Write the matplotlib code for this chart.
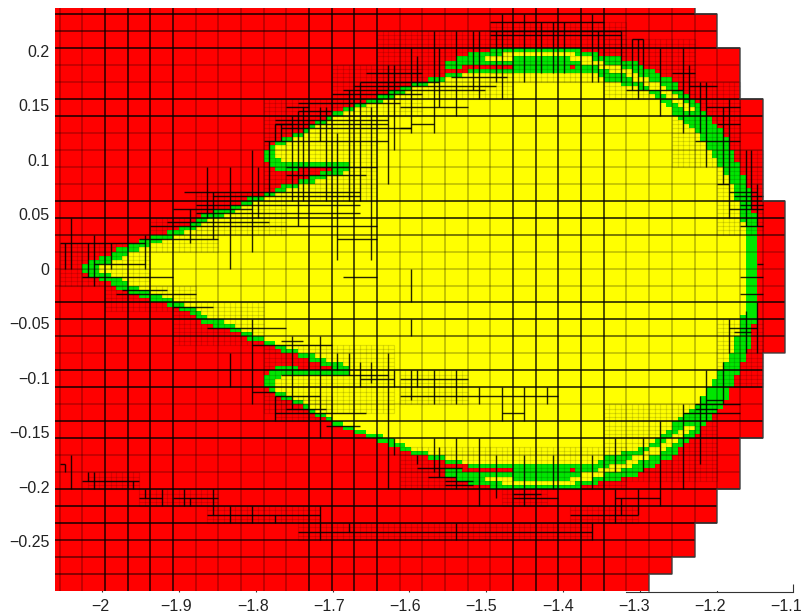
import numpy as np
import matplotlib
matplotlib.use('Agg')
import matplotlib.pyplot as plt
from matplotlib.colors import ListedColormap
from matplotlib.path import Path
from matplotlib.transforms import ScaledTranslation

# tick labels
x_ticks = [-2, -1.9, -1.8, -1.7, -1.6, -1.5, -1.4, -1.3, -1.2, -1.1]
x_labels = ['−2', '−1.9', '−1.8', '−1.7', '−1.6', '−1.5', '−1.4', '−1.3', '−1.2', '−1.1']
y_ticks = [0.2, 0.15, 0.1, 0.05, 0, -0.05, -0.1, -0.15, -0.2, -0.25]
y_labels = ['0.2', '0.15', '0.1', '0.05', '0', '−0.05', '−0.1', '−0.15', '−0.2', '−0.25']

# base mesh
x_start = -2.0556
cell_w = 0.02953
cell_h = 0.015578
# number of base columns in each base row, rows -1 to 33 (row 15 starts at y=0)
row_cols = [28, 29, 29, 30, 30, 30, 31, 31, 31, 31, 31, 31, 32, 32, 32, 32, 32, 32, 32, 32, 32,
            31, 31, 31, 31, 31, 30, 30, 30, 29, 29, 28, 28, 27, 26]
# mesh line level per base column line 0..32 and base row line 0..33 (1 = strong)
col_level = [0, 0, 1, 1, 1, 1, 0, 0, 0, 0, 0, 1, 1, 1, 1, 0, 0, 0, 0, 0, 1, 1, 1, 1, 1,
             0, 0, 0, 0, 0, 0, 0, 0]
row_level = [1, 0.6, 1, 0, 0, 1, 1, 0, 0, 0, 0, 1, 1, 0.6, 0, 0, 0, 1, 1, 0.6, 0, 1, 1, 0, 1, 1,
             0, 0, 1, 1, 1, 0.8, 0.5, 0.5]

# upper half outline of the set (x, y), the lower half mirrors it
body_x = [-2.0254, -2.0185, -2.0029, -1.9742, -1.9599, -1.9286, -1.9078, -1.8857, -1.8622, -1.8336,
          -1.8180, -1.7880, -1.7594, -1.7294, -1.7138, -1.6995, -1.7451, -1.7464, -1.7724, -1.7841,
          -1.7893, -1.7867, -1.7750, -1.7646, -1.7451, -1.7229, -1.6995, -1.6865, -1.6552, -1.6409,
          -1.6123, -1.5901, -1.5693, -1.5446, -1.5172, -1.4664, -1.4664, -1.5315, -1.5341, -1.5537,
          -1.5537, -1.5380, -1.5172, -1.4795, -1.3844, -1.3610, -1.3349, -1.3102, -1.2893, -1.2646,
          -1.2438, -1.2282, -1.2060, -1.1917, -1.1852, -1.1696, -1.1630, -1.1552, -1.1513, -1.1474,
          -1.1474]
body_y = [0, 0.0078, 0.0105, 0.0188, 0.0234, 0.0307, 0.0353, 0.0417, 0.0509, 0.0564,
          0.0619, 0.0692, 0.0775, 0.0830, 0.0885, 0.0922, 0.0931, 0.0903, 0.0885, 0.0949,
          0.1013, 0.1087, 0.1160, 0.1206, 0.1252, 0.1343, 0.1426, 0.1472, 0.1545, 0.1591,
          0.1646, 0.1710, 0.1747, 0.1783, 0.1820, 0.1829, 0.1866, 0.1866, 0.1829, 0.1829,
          0.1894, 0.1939, 0.1985, 0.2022, 0.2022, 0.1976, 0.1939, 0.1903, 0.1829, 0.1747,
          0.1637, 0.1545, 0.1362, 0.1242, 0.1160, 0.0903, 0.0812, 0.0656, 0.0509, 0.0326,
          0]
# yellow interior inside the green band
inner_x = [-2.0133, -2.0029, -1.9742, -1.9599, -1.9286, -1.9078, -1.8857, -1.8622, -1.8336, -1.8180,
           -1.7880, -1.7594, -1.7294, -1.6995, -1.6800, -1.6800, -1.7685, -1.7750, -1.7451, -1.7229,
           -1.6995, -1.6552, -1.6123, -1.5901, -1.5693, -1.5446, -1.5172, -1.4651, -1.3623, -1.3518,
           -1.3167, -1.2907, -1.2737, -1.2581, -1.2438, -1.2282, -1.2151, -1.2060, -1.1982, -1.1852,
           -1.1761, -1.1696, -1.1630, -1.1630]
inner_y = [0, 0.0032, 0.0105, 0.0151, 0.0243, 0.0289, 0.0353, 0.0445, 0.0509, 0.0564,
           0.0646, 0.0720, 0.0793, 0.0857, 0.0885, 0.0967, 0.0967, 0.1114, 0.1206, 0.1298,
           0.1380, 0.1499, 0.1591, 0.1674, 0.1701, 0.1747, 0.1793, 0.1793, 0.1793, 0.1747,
           0.1683, 0.1637, 0.1545, 0.1435, 0.1362, 0.1252, 0.1151, 0.1059, 0.0967, 0.0839,
           0.0692, 0.0509, 0.0326, 0]
# thin yellow strip inside the band on top
strip_x = [-1.5042, -1.4821, -1.4560, -1.3870, -1.3649, -1.3388, -1.3154, -1.2867, -1.2672, -1.2477,
           -1.2308, -1.2373, -1.2542, -1.2737, -1.2933, -1.3193, -1.3453, -1.3714, -1.3909, -1.4560,
           -1.4821, -1.5042]
strip_y = [0.1939, 0.1967, 0.1976, 0.1976, 0.1930, 0.1875, 0.1820, 0.1729, 0.1664, 0.1563,
           0.1453, 0.1426, 0.1527, 0.1618, 0.1683, 0.1774, 0.1829, 0.1875, 0.1930, 0.1930,
           0.1921, 0.1903]
# small red spot in the band
spot_x = [-1.3920, -1.3844, -1.3844, -1.3920]
spot_y = [0.1866, 0.1866, 0.1829, 0.1829]

# refined cell edges in base cell units: column, first row, last row
v_edges = [(.25, 13.5, 15), (.5, 12, 15), (1.25, 13.5, 15.5), (1.5, 13, 16), (2.25, 13.5, 15), (3.75, 13, 15),
           (5.75, 11.5, 13.5), (6.5, 9, 12), (6.75, 10.5, 13.25), (7.5, 9, 15), (8.5, 8, 14), (8.75, 9, 12),
           (9.25, 7.5, 10.75), (9.5, 6.5, 7.5), (9.75, 6.5, 7.5), (10.25, 6, 11), (10.5, 5.75, 12.5), (10.75, 5.5, 11),
           (11.5, 5.5, 7.5), (11.75, 5.5, 11), (12.25, 7, 14.5), (12.75, 4.5, 11), (13.25, 4, 11),
           (13.75, 5.5, 14.5), (14.5, 3, 10), (14.75, 3, 8),
           (15.5, 2, 7), (15.75, 2.5, 4.25), (16.5, 1, 7), (16.75, 2, 5.5), (17.5, 1, 6), (18.25, 1, 4.5),
           (18.5, 1, 5), (19.25, 1, 4), (19.5, 0, 5), (20.5, 0, 4), (21.25, .5, 3.5), (21.75, .5, 3.5),
           (22.25, .5, 3.5), (23.5, 0, 4), (23.75, 1, 4), (24.75, 1, 4), (25.25, 1.5, 4.5), (25.5, 1.5, 5),
           (25.75, 1.5, 4.5), (26.5, 2, 6), (27.5, 2, 7), (27.75, 3, 6), (28.25, 4, 7), (28.5, 4, 9),
           (29.25, 5.5, 10), (29.5, 5, 12), (30.25, 8, 12.5), (30.5, 8, 11.5), (30.75, 10, 12.5), (15.5, 15, 17),
           (.25, 26.5, 27), (.5, 26, 28), (1.25, 27, 27.5), (1.5, 27, 28), (3.25, 27.5, 28), (3.75, 28, 28.5),
           (4.5, 28, 29), (5.5, 28, 29), (5.75, 28.5, 29), (6.75, 28, 29.5), (7.5, 29, 30), (8.5, 29, 30),
           (9.5, 29.5, 30), (11.5, 29, 31), (12.75, 30, 30.5), (7.5, 20, 22), (8.5, 18, 23), (10.25, 19, 23.25),
           (9.5, 22.5, 24), (11.5, 19, 25), (12.25, 20, 21), (12.75, 20, 21.25), (13.25, 20.5, 22),
           (13.75, 20.5, 21.75), (14.5, 20, 28), (14.75, 21, 22), (14.75, 25, 26),
           (15.5, 18, 19), (15.5, 21, 22.75), (15.75, 21, 22), (15.75, 26, 26.5), (16.5, 21, 23), (16.5, 25, 27),
           (16.75, 25.5, 27.25), (17.5, 21, 23), (17.5, 25, 28), (17.5, 30, 31), (18.5, 22, 23), (18.5, 25, 29),
           (19.25, 26, 28.5), (19.5, 22, 24), (20.5, 22, 24), (20.5, 26, 29), (21.5, 22, 23), (21.75, 26, 28),
           (23.5, 30, 31), (23.5, 26, 28), (24.75, 28.5, 29.5), (24.5, 25, 27), (24.5, 28, 30), (25.5, 28, 29.5),
           (25.75, 25, 27), (26.5, 24, 29), (27.5, 23, 28), (28.25, 22.5, 26.5), (28.5, 21, 24), (29.25, 20.5, 23),
           (29.5, 18, 20), (30.25, 17.5, 20), (30.75, 17, 20)]
# same for row lines: row, first column, last column
h_edges = [(13.5, 0, 3.75), (12.5, 4, 9.25), (12.25, 4.75, 9.25), (11.5, 5, 8.5), (11.25, 6, 13.25),
           (10.75, 6.75, 13.25), (10.5, 5.5, 13.25), (12.5, 9.25, 14), (13.25, 12.25, 14), (15.5, 12.5, 14),
           (16.25, 2.75, 4.75), (16.5, 2.5, 6), (17.25, 5, 6.75), (5.5, 10, 11), (6.5, 9.5, 10.25),
           (4.25, 13, 19.25), (4, 13.25, 16.75), (4.75, 12, 16), (5.25, 10.5, 15),
           (.5, 19, 24), (5.5, 15, 18), (6.5, 15.5, 16.5), (6.75, 15, 15.5), (4.5, 12.5, 18.75), (3.75, 17.25, 19.75),
           (1, 19, 24.75), (1.25, 19, 24.75), (1.5, 25.25, 25.75), (3.5, 27, 28), (4.25, 27.75, 29), (4.5, 25, 27.5),
           (5.5, 28.5, 30), (6.5, 29, 30), (7.5, 28, 30), (10, 29, 29.5), (10.5, 29.5, 30.75), (10.75, 29.75, 31),
           (11.25, 30, 31), (11.5, 29.5, 31), (12.5, 30, 31), (15.5, 30, 31), (16.5, 30, 31), (14.75, 30.75, 31),
           (26.5, 0, .25), (27.5, 1, 3.5), (28.5, 3.5, 4.5), (28.5, 5, 7), (29.5, 6.5, 11.5), (30.5, 10.5, 15),
           (23.5, 9.5, 13.5), (23.25, 10, 11.75), (22.5, 9.5, 11.5), (22.25, 8.5, 9.5), (18.5, 6.5, 10),
           (19.5, 8.5, 12), (19.25, 9.75, 10.75), (21.25, 9.75, 14.5), (21.5, 13.25, 14.75), (24.25, 11.75, 13.25),
           (22.5, 15, 22), (23.5, 19.5, 20.5), (21.5, 15, 18), (26.75, 15.75, 17.75), (27.25, 16.25, 17.5),
           (27.5, 17, 18.25), (27.75, 17, 18.25), (28.25, 20, 21.25), (28.5, 20, 22), (28.5, 24.5, 26.5),
           (29.5, 22.5, 25.5), (30.5, 15, 23.5), (23.5, 27.5, 30), (23.25, 28, 29), (22.75, 28.5, 29.25),
           (23, 28, 30), (18.75, 29.75, 30.5), (18.5, 29.5, 30.75),
           (11.75, 6, 13.25), (13.25, 3.5, 7), (14.75, 1.5, 3.75), (15.5, 1, 5), (3.5, 13.5, 16),
           (5.75, 10.5, 12), (6.25, 9.5, 14.5), (6.5, 9.5, 14.5), (6.75, 9.75, 15.5), (7.5, 9, 14.5), (9, 10, 14),
           (9.5, 10, 13.5)]
# zones refined further, shown by faint quarter cell lines: columns, then rows
zones = [(0, 4, 13.5, 16), (4, 7, 12, 14), (6, 10, 10.5, 13), (9, 14, 5, 11), (12, 16, 3, 6), (14, 20, 1, 5),
         (19, 25, 0.5, 4), (24, 28, 1.5, 5), (27, 30, 4, 9), (29, 31, 8, 13), (1.25, 3.5, 27, 28), (3.5, 7, 28, 29),
         (6.5, 11.5, 29, 30), (10.5, 15, 30, 31), (15, 23.5, 30, 31), (22.5, 25.5, 29, 30), (19.5, 21.5, 28, 29),
         (15, 25, 25.5, 28), (9, 14.75, 19.5, 23.5), (15, 18, 21, 23), (24, 29, 23, 27.5), (29, 31, 18, 22),
         (2, 6, 16, 17.5), (5, 9, 17, 19.5), (9.5, 12, 22.5, 24)]

# cell states on the quarter cell grid: 0 outside, 1 red, 2 yellow, 3 green
x_edges = x_start + cell_w * np.arange(-4, 32 * 4 + 1) / 4
y_edges = -cell_h * (np.arange(-4, 34 * 4 + 1) / 4 - 15)
x_mid = (x_edges[:-1] + x_edges[1:]) / 2
y_mid = (y_edges[:-1] + y_edges[1:]) / 2
xx, yy = np.meshgrid(x_mid, y_mid)
pts = np.column_stack([xx.ravel(), np.abs(yy).ravel()])


def inside(px, py):
    return Path(np.column_stack([px, py])).contains_points(pts).reshape(xx.shape)


state = np.zeros(xx.shape, dtype=int)
for i, n in enumerate(row_cols):
    state[i * 4:(i + 1) * 4, :(n + 1) * 4] = 1
state[inside(body_x, body_y)] = 3
state[inside(inner_x, inner_y)] = 2
state[inside(strip_x, strip_y)] = 2
state[inside(spot_x, spot_y)] = 1

fig = plt.figure(figsize=(8.03, 6.15), dpi=100)
ax = fig.add_axes([55 / 803, (615 - 591.5) / 615, 738.4 / 803, 583.5 / 615])
ax.pcolormesh(x_edges, y_edges, state, cmap=ListedColormap(['white', '#ff0000', '#ffff00', '#00e600']),
              vmin=0, vmax=3, zorder=3)


def col_x(k):
    return x_start + cell_w * np.asarray(k, dtype=float)


def row_y(m):
    return -cell_h * (np.asarray(m, dtype=float) - 15)


# base mesh lines
rows = np.arange(-1, 34)
cols = np.array(row_cols)
for k, level in enumerate(col_level):
    have = rows[cols >= k]
    ax.vlines(col_x(k), row_y(have[0]), row_y(have[-1] + 1), colors='k',
              lw=1.2, alpha=0.8 if level else 0.28, zorder=4)
for m, level in enumerate(row_level):
    right = cols[max(m, 0):m + 2].max()
    ax.hlines(row_y(m), col_x(-1), col_x(right), colors='k',
              lw=1.2, alpha=0.25 + 0.6 * level, zorder=4)

# faint lines of the zones
for k0, k1, m0, m1 in zones:
    for k in np.arange(k0, k1 + 0.01, 0.25):
        ax.vlines(col_x(k), row_y(m0), row_y(m1), colors='k', lw=0.9, alpha=0.13, zorder=4)
    for m in np.arange(m0, m1 + 0.01, 0.25):
        ax.hlines(row_y(m), col_x(k0), col_x(k1), colors='k', lw=0.9, alpha=0.13, zorder=4)

# refined cell edges
for k, m0, m1 in v_edges:
    ax.vlines(col_x(k), row_y(m0), row_y(m1), colors='k', lw=1.0, alpha=0.85, zorder=5)
for m, k0, k1 in h_edges:
    ax.hlines(row_y(m), col_x(k0), col_x(k1), colors='k', lw=1.0, alpha=0.85, zorder=5)

# outline of the staircase
sx = np.repeat(col_x(cols), 2)
sy = np.ravel(np.column_stack([row_y(rows), row_y(rows + 1)]))
ax.plot(sx, sy, color='#444444', lw=1.2, alpha=0.7, zorder=5)

ax.set_xlim(-2.0615, -1.1)
ax.set_ylim(-0.2963, 0.2390)
ax.set_xticks(x_ticks)
ax.set_xticklabels(x_labels, fontsize=11.5, family='Liberation Sans', color='#222222')
ax.set_yticks(y_ticks)
ax.set_yticklabels(y_labels, fontsize=11.5, family='Liberation Sans', color='#222222')
ax.tick_params(direction='in', length=6, width=0.8, color='#333333')
ax.tick_params(axis='x', pad=5.5)
ax.tick_params(axis='y', pad=4)
# labels sit a little left of their ticks, more so towards the right
for i, lab in enumerate(ax.get_xticklabels()):
    lab.set_transform(lab.get_transform() + ScaledTranslation((-2 - 5 * i / 9) / 100, 0, fig.dpi_scale_trans))
for side in ['top', 'right', 'left']:
    ax.spines[side].set_visible(False)
ax.spines['bottom'].set_bounds(-1.318, -1.1)
ax.spines['bottom'].set_zorder(6)
ax.spines['bottom'].set_color('#333333')

fig.savefig('out.png', dpi=100)
